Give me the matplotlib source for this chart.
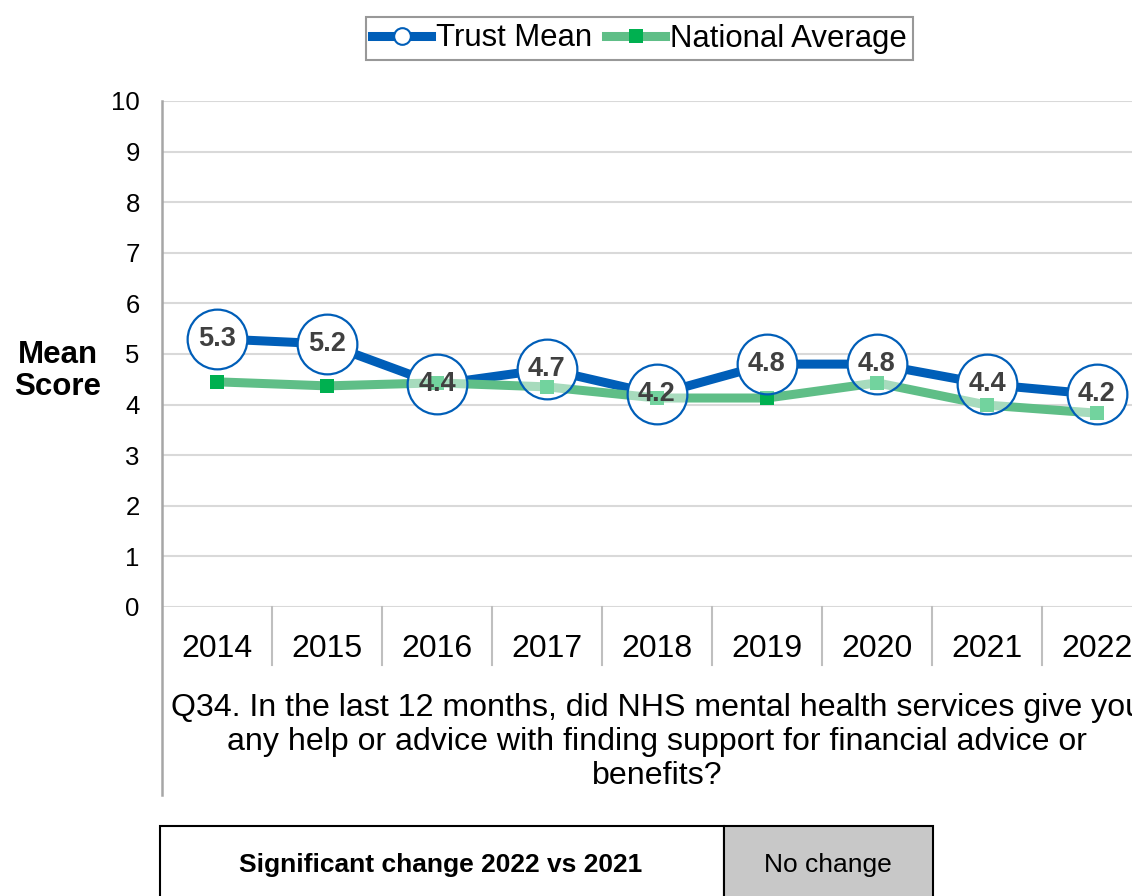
import matplotlib
matplotlib.use("Agg")
import matplotlib.pyplot as plt
from matplotlib.lines import Line2D
from matplotlib.patches import Rectangle

plt.rcParams['font.family'] = ['Liberation Sans', 'DejaVu Sans']

years = ['2014', '2015', '2016', '2017', '2018', '2019', '2020', '2021', '2022']
trust_mean = [5.3, 5.2, 4.4, 4.7, 4.2, 4.8, 4.8, 4.4, 4.2]
national_avg = [4.45, 4.37, 4.43, 4.35, 4.13, 4.13, 4.43, 3.99, 3.83]
question = ("Q34. In the last 12 months, did NHS mental health services give you\n"
            "any help or advice with finding support for financial advice or\n"
            "benefits?")
change_label = "Significant change 2022 vs 2021"
change_value = "No change"

W, H = 1132, 896
fig = plt.figure(figsize=(W / 100, H / 100), dpi=100)

def fx(px):
    return px / W

def fy(py):
    return 1 - py / H

ax_left, ax_right, ax_top, ax_bottom = 162, 1152, 101, 607
ax = fig.add_axes([fx(ax_left), fy(ax_bottom), fx(ax_right - ax_left), (ax_bottom - ax_top) / H])

blue = '#005EB8'
green_line = '#5FBE87'
green_mark = '#00B050'
grid_c = '#D9D9D9'
axis_c = '#BFBFBF'

x = list(range(len(years)))

ax.set_xlim(-0.5, len(years) - 0.5)
ax.set_ylim(0, 10)
ax.set_yticks(range(0, 11))
ax.tick_params(axis='y', length=0, pad=16, labelsize=18.5)
ax.set_xticks([])
for s in ['top', 'right', 'bottom', 'left']:
    ax.spines[s].set_visible(False)
ax.grid(axis='y', color=grid_c, linewidth=1.5, zorder=0)
ax.axhline(0, color=axis_c, linewidth=2, zorder=1)

# Trust series: line hidden behind opaque discs
ax.plot(x, trust_mean, color=blue, linewidth=6.5, solid_capstyle='butt', zorder=2)
ax.plot(x, trust_mean, linestyle='none', marker='o', markersize=43,
        markerfacecolor='white', markeredgewidth=0, zorder=3)

# National average series
ax.plot(x, national_avg, color=green_line, linewidth=6.5, marker='s', markersize=10,
        markerfacecolor=green_mark, markeredgewidth=0, zorder=4)

# Label discs with translucent fill
ax.plot(x, trust_mean, linestyle='none', marker='o', markersize=43,
        markerfacecolor=(1, 1, 1, 0.45), markeredgecolor=blue, markeredgewidth=1.6, zorder=5)
for xi, v in zip(x, trust_mean):
    ax.text(xi, v, f'{v:.1f}', ha='center', va='center', fontsize=19.5,
            fontweight='bold', color='#404040', zorder=6)

# Category labels and separators
for xi, lab in zip(x, years):
    ax.text(xi, -42 / 506, lab, transform=ax.get_xaxis_transform(), ha='center',
            va='center', fontsize=23, clip_on=False)
for k in range(1, len(years)):
    ax.plot([k - 0.5, k - 0.5], [0, -58 / 506], transform=ax.get_xaxis_transform(),
            color=axis_c, linewidth=1.5, clip_on=False)

# Left axis line extended down past the question text
fig.add_artist(Line2D([fx(ax_left), fx(ax_left)], [fy(101), fy(795)], color='#A6A6A6',
                      linewidth=1.8))

# Axis title
fig.text(fx(58), fy(371), 'Mean\nScore', ha='center', va='center', fontsize=22.5,
         fontweight='bold', linespacing=1.1)

# Question text (centred under the full category band, which runs past the right edge)
fig.text(fx((ax_left + ax_right) / 2), fy(742), question, ha='center', va='center',
         fontsize=23.1, linespacing=1.17)

# Legend
handles = [
    Line2D([], [], color=blue, linewidth=6.5, marker='o', markersize=12,
           markerfacecolor='white', markeredgecolor=blue, markeredgewidth=1.5),
    Line2D([], [], color=green_line, linewidth=6.5, marker='s', markersize=10,
           markerfacecolor=green_mark, markeredgewidth=0),
]
leg = fig.legend(handles, ['Trust Mean', 'National Average'], loc='center',
                 bbox_to_anchor=(fx(639.5), fy(38.5)), ncol=2, fontsize=22.4,
                 frameon=True, fancybox=False, handlelength=1.9, handletextpad=0.15,
                 columnspacing=0.45, borderpad=0.2, borderaxespad=0)
leg.get_frame().set_edgecolor('#7F7F7F')
leg.get_frame().set_linewidth(1.5)

# Significance box
top, bot = 826, 905
fig.add_artist(Rectangle((fx(160), fy(bot)), fx(724 - 160), (bot - top) / H,
                         facecolor='white', edgecolor='black', linewidth=1.5))
fig.add_artist(Rectangle((fx(724), fy(bot)), fx(933 - 724), (bot - top) / H,
                         facecolor='#C8C8C8', edgecolor='black', linewidth=1.5))
fig.text(fx(441), fy(865), change_label, ha='center', va='center', fontsize=19,
         fontweight='bold')
fig.text(fx(828), fy(865), change_value, ha='center', va='center', fontsize=19)

fig.savefig('out.png', dpi=100)
